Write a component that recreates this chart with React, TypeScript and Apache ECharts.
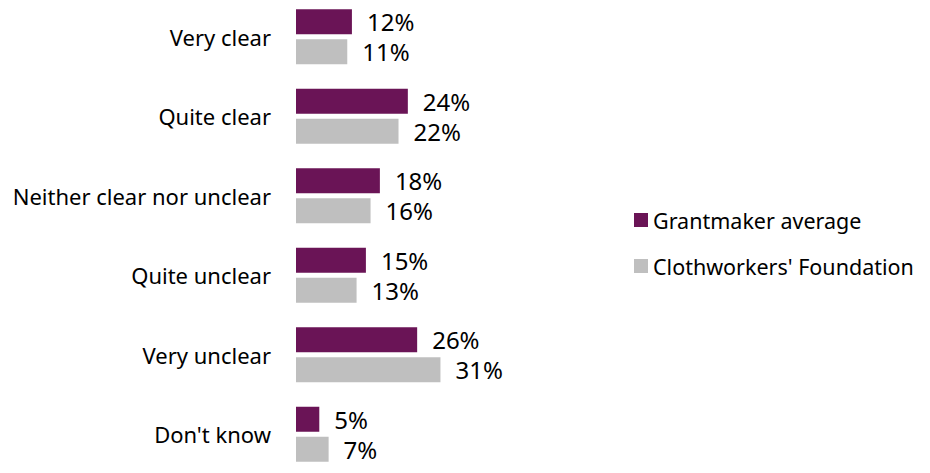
import React, { useEffect, useRef } from "react";
import * as echarts from "echarts";

const categories = [
  "Very clear",
  "Quite clear",
  "Neither clear nor unclear",
  "Quite unclear",
  "Very unclear",
  "Don't know",
];
const grantmakerAverage = [12, 24, 18, 15, 26, 5];
const clothworkers = [11, 22, 16, 13, 31, 7];
const seriesNames = ["Grantmaker average", "Clothworkers' Foundation"];

const FONT = "'Noto Sans', 'Liberation Sans', sans-serif";

export default function App() {
  const ref = useRef<HTMLDivElement>(null);
  useEffect(() => {
    if (!ref.current) return;
    const chart = echarts.init(ref.current, null, { renderer: "svg" });
    const label = {
      show: true,
      position: "right",
      distance: 15,
      formatter: "{c}%",
      fontFamily: FONT,
      fontSize: 24,
      lineHeight: 22,
      color: "#000",
    };
    chart.setOption({
      animation: false,
      grid: { left: 296, top: 0, width: 466, height: 486 },
      legend: {
        orient: "vertical",
        left: 634,
        top: 212,
        padding: 0,
        itemWidth: 14,
        itemHeight: 14,
        itemGap: 24,
        icon: "rect",
        textStyle: { fontFamily: FONT, fontSize: 21.5, lineHeight: 22, color: "#000" },
        data: seriesNames,
      },
      xAxis: {
        type: "value",
        min: 0,
        max: 100,
        show: false,
      },
      yAxis: {
        type: "category",
        inverse: true,
        data: categories,
        axisLine: { show: false },
        axisTick: { show: false },
        axisLabel: {
          margin: 25,
          fontFamily: FONT,
          fontSize: 22,
          color: "#000",
        },
      },
      series: [
        {
          name: seriesNames[0],
          type: "bar",
          data: grantmakerAverage,
          barWidth: 25,
          barGap: "20%",
          itemStyle: { color: "#6A1456" },
          label,
        },
        {
          name: seriesNames[1],
          type: "bar",
          data: clothworkers,
          barWidth: 25,
          barGap: "20%",
          itemStyle: { color: "#BFBFBF" },
          label,
        },
      ],
    });
    return () => chart.dispose();
  }, []);
  return (
    <div
      ref={ref}
      style={{ position: "absolute", left: 0, top: -3.5, width: 930, height: 476.5 }}
    />
  );
}
